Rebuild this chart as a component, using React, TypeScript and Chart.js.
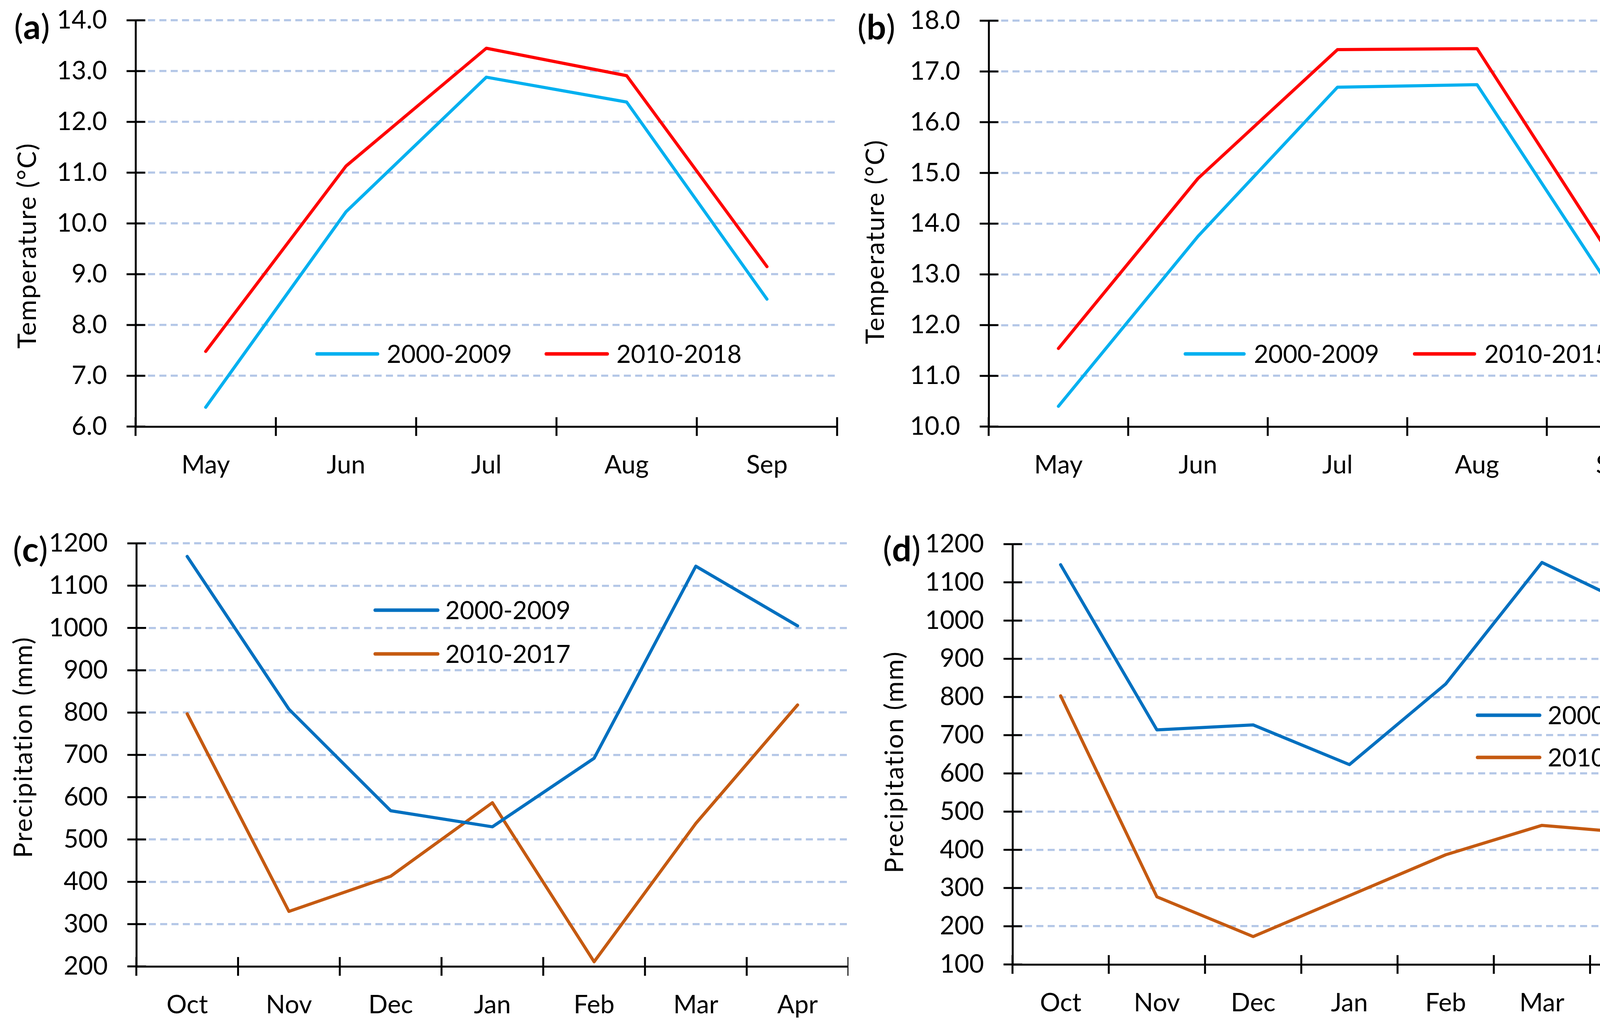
import React, { useEffect, useRef } from 'react';
import { Chart, registerables } from 'chart.js';

Chart.register(...registerables);

// ---------- data ----------
const TEMP_MONTHS = ['May', 'Jun', 'Jul', 'Aug', 'Sep'];
const PRECIP_MONTHS = ['Oct', 'Nov', 'Dec', 'Jan', 'Feb', 'Mar', 'Apr'];

const A_2000_2009 = [6.38, 10.23, 12.88, 12.39, 8.51];
const A_2010_2018 = [7.48, 11.13, 13.45, 12.91, 9.15];

const B_2000_2009 = [10.4, 13.75, 16.69, 16.74, 12.55];
const B_2010_2015 = [11.54, 14.89, 17.43, 17.45, 13.18];

const C_2000_2009 = [1169, 808, 568, 530, 692, 1146, 1005];
const C_2010_2017 = [797, 330, 413, 587, 211, 538, 818];

const D_2000_2009 = [1146, 714, 727, 623, 834, 1152, 1031];
const D_2010_2014 = [803, 277, 173, 280, 387, 464, 443];

const TEMP_TITLE = 'Temperature (°C)';
const PRECIP_TITLE = 'Precipitation (mm)';

// ---------- styles ----------
const FONT = 'Lato, "Open Sans", "DejaVu Sans", sans-serif';
const LIGHT_BLUE = '#00B0F0';
const RED = '#FF0000';
const BLUE = '#0070C0';
const ORANGE = '#C55A11';
const GRID = '#B4C7E7';
const TICK_SIZE = 65;

type Series = { label: string; data: number[]; color: string };
type LegendItem = { x1: number; x2: number; tx: number; y: number };
type PanelCfg = {
  letter: string;
  left: number; top: number; width: number; height: number;
  area: { l: number; r: number; t: number; b: number };
  labels: string[];
  series: Series[];
  yMin: number; yMax: number; yStep: number; decimals: number;
  title: string; titleBase: number; titleCenter: number; titleLen: number;
  letterX: number; letterBase: number;
  legend: LegendItem[];
};

const PANELS: PanelCfg[] = [
  {
    letter: 'a', left: 0, top: 0, width: 2172, height: 1300,
    area: { l: 347, r: 2143, t: 52, b: 1092 },
    labels: TEMP_MONTHS,
    series: [
      { label: '2000-2009', data: A_2000_2009, color: LIGHT_BLUE },
      { label: '2010-2018', data: A_2010_2018, color: RED },
    ],
    yMin: 6, yMax: 14, yStep: 1, decimals: 1,
    title: TEMP_TITLE, titleBase: 92, titleCenter: 630, titleLen: 525,
    letterX: 36, letterBase: 100,
    legend: [
      { x1: 807, x2: 971, tx: 990, y: 906 },
      { x1: 1394, x2: 1559, tx: 1578, y: 906 },
    ],
  },
  {
    letter: 'b', left: 2172, top: 0, width: 2173, height: 1300,
    area: { l: 2531, r: 4317, t: 53, b: 1092 },
    labels: TEMP_MONTHS,
    series: [
      { label: '2000-2009', data: B_2000_2009, color: LIGHT_BLUE },
      { label: '2010-2015', data: B_2010_2015, color: RED },
    ],
    yMin: 10, yMax: 18, yStep: 1, decimals: 1,
    title: TEMP_TITLE, titleBase: 2263, titleCenter: 620, titleLen: 522,
    letterX: 2195, letterBase: 101,
    legend: [
      { x1: 3030, x2: 3189, tx: 3210, y: 906 },
      { x1: 3617, x2: 3779, tx: 3800, y: 906 },
    ],
  },
  {
    letter: 'c', left: 0, top: 1300, width: 2172, height: 1324,
    area: { l: 349, r: 2200, t: 1391, b: 2474 },
    labels: PRECIP_MONTHS,
    series: [
      { label: '2000-2009', data: C_2000_2009, color: BLUE },
      { label: '2010-2017', data: C_2010_2017, color: ORANGE },
    ],
    yMin: 200, yMax: 1200, yStep: 100, decimals: 0,
    title: PRECIP_TITLE, titleBase: 82, titleCenter: 1914, titleLen: 566,
    letterX: 33, letterBase: 1438,
    legend: [
      { x1: 956, x2: 1125, tx: 1140, y: 1562 },
      { x1: 956, x2: 1125, tx: 1140, y: 1674 },
    ],
  },
  {
    letter: 'd', left: 2172, top: 1300, width: 2173, height: 1324,
    area: { l: 2592, r: 4317, t: 1393, b: 2469 },
    labels: PRECIP_MONTHS,
    series: [
      { label: '2000-2009', data: D_2000_2009, color: BLUE },
      { label: '2010-2014', data: D_2010_2014, color: ORANGE },
    ],
    yMin: 100, yMax: 1200, yStep: 100, decimals: 0,
    title: PRECIP_TITLE, titleBase: 2312, titleCenter: 1952, titleLen: 568,
    letterX: 2260, letterBase: 1437,
    legend: [
      { x1: 3778, x2: 3946, tx: 3962, y: 1831 },
      { x1: 3778, x2: 3946, tx: 3962, y: 1939 },
    ],
  },
];

function makeDecor(p: PanelCfg) {
  return {
    id: 'decor_' + p.letter,
    afterDraw(chart: any) {
      const ctx: CanvasRenderingContext2D = chart.ctx;
      const ox = p.left;
      const oy = p.top;
      const xs = chart.scales.x;
      const ys = chart.scales.y;
      const area = chart.chartArea;
      ctx.save();
      // cross tick marks on y axis
      ctx.strokeStyle = '#000';
      ctx.lineWidth = 5;
      ctx.lineCap = 'butt';
      ys.ticks.forEach((t: any) => {
        const py = ys.getPixelForValue(t.value);
        ctx.beginPath();
        ctx.moveTo(area.left - 23, py);
        ctx.lineTo(area.left + 25, py);
        ctx.stroke();
      });
      // cross tick marks on x axis at category boundaries
      const n = p.labels.length;
      const half = (xs.getPixelForValue(1) - xs.getPixelForValue(0)) / 2;
      for (let i = 0; i <= n; i++) {
        const px = i < n ? xs.getPixelForValue(i) - half : xs.getPixelForValue(n - 1) + half;
        ctx.beginPath();
        ctx.moveTo(px, area.bottom - 24);
        ctx.lineTo(px, area.bottom + 24);
        ctx.stroke();
      }
      // legend
      const legSize = 64;
      ctx.lineCap = 'round';
      ctx.lineWidth = 9;
      ctx.font = `${legSize}px ${FONT}`;
      ctx.textAlign = 'left';
      ctx.textBaseline = 'alphabetic';
      p.legend.forEach((it, i) => {
        const s = p.series[i];
        ctx.strokeStyle = s.color;
        ctx.beginPath();
        ctx.moveTo(it.x1 - ox + 4.5, it.y - oy);
        ctx.lineTo(it.x2 - ox - 4.5, it.y - oy);
        ctx.stroke();
        ctx.fillStyle = '#000';
        ctx.fillText(s.label, it.tx - ox, it.y - oy + 0.358 * legSize);
      });
      // panel letter
      ctx.fillStyle = '#000';
      const lsz = 88;
      let lx = p.letterX - ox;
      const ly = p.letterBase - oy;
      ctx.font = `${lsz}px ${FONT}`;
      ctx.fillText('(', lx, ly);
      lx += ctx.measureText('(').width;
      ctx.font = `bold ${lsz}px ${FONT}`;
      ctx.fillText(p.letter, lx, ly);
      lx += ctx.measureText(p.letter).width;
      ctx.font = `${lsz}px ${FONT}`;
      ctx.fillText(')', lx, ly);
      // y-axis title
      ctx.font = `66px ${FONT}`;
      (ctx as any).letterSpacing = '0px';
      const w = ctx.measureText(p.title).width;
      const ls = Math.max(-2, (p.titleLen - w) / (p.title.length - 1));
      (ctx as any).letterSpacing = `${ls}px`;
      ctx.translate(p.titleBase - ox, p.titleCenter - oy);
      ctx.rotate(-Math.PI / 2);
      ctx.textAlign = 'center';
      ctx.fillText(p.title, ls / 2, 0);
      ctx.restore();
    },
  };
}

function clearPadding(scale: any) {
  scale.paddingTop = 0;
  scale.paddingBottom = 0;
  scale.paddingLeft = 0;
  scale.paddingRight = 0;
}

function Panel({ p }: { p: PanelCfg }) {
  const ref = useRef<HTMLCanvasElement | null>(null);
  useEffect(() => {
    if (!ref.current) return;
    const yWidth = p.area.l - p.left;
    const xHeight = p.top + p.height - p.area.b;
    const chart = new Chart(ref.current, {
      type: 'line',
      data: {
        labels: p.labels,
        datasets: p.series.map((s) => ({
          label: s.label,
          data: s.data,
          borderColor: s.color,
          backgroundColor: s.color,
          borderWidth: 8,
          pointRadius: 0,
          tension: 0,
          borderCapStyle: 'round',
          borderJoinStyle: 'round',
          fill: false,
        })),
      },
      options: {
        responsive: false,
        animation: false,
        devicePixelRatio: 1,
        layout: {
          autoPadding: false,
          padding: {
            left: 0,
            top: p.area.t - p.top,
            right: p.left + p.width - p.area.r,
            bottom: 0,
          },
        },
        plugins: {
          legend: { display: false },
          tooltip: { enabled: false },
          title: { display: false },
        },
        scales: {
          x: {
            type: 'category',
            offset: true,
            grid: { display: false, drawTicks: false, offset: true },
            border: { display: true, color: '#000', width: 5 },
            ticks: {
              color: '#000',
              font: { family: FONT, size: TICK_SIZE },
              padding: 60,
              maxRotation: 0,
              autoSkip: false,
            },
            afterFit: (scale: any) => {
              scale.height = xHeight;
              clearPadding(scale);
            },
          },
          y: {
            type: 'linear',
            min: p.yMin,
            max: p.yMax,
            grid: {
              drawTicks: false,
              lineWidth: 5.5,
              color: (ctx: any) => (ctx.tick && ctx.tick.value === p.yMin ? 'rgba(0,0,0,0)' : GRID),
            },
            border: { display: true, color: '#000', width: 5, dash: [18, 11] },
            ticks: {
              stepSize: p.yStep,
              color: '#000',
              font: { family: FONT, size: TICK_SIZE },
              padding: 73,
              callback: (v: any) => Number(v).toFixed(p.decimals),
            },
            afterFit: (scale: any) => {
              scale.width = yWidth;
              clearPadding(scale);
            },
          },
        },
      } as any,
      plugins: [makeDecor(p)],
    });
    return () => chart.destroy();
  }, []);
  return (
    <canvas
      ref={ref}
      width={p.width}
      height={p.height}
      style={{ position: 'absolute', left: p.left, top: p.top, width: p.width, height: p.height }}
    />
  );
}

export default function App() {
  return (
    <div style={{ position: 'absolute', left: 0, top: 0, width: 4345, height: 2624, background: '#fff', overflow: 'hidden' }}>
      {PANELS.map((p) => (
        <Panel key={p.letter} p={p} />
      ))}
    </div>
  );
}
